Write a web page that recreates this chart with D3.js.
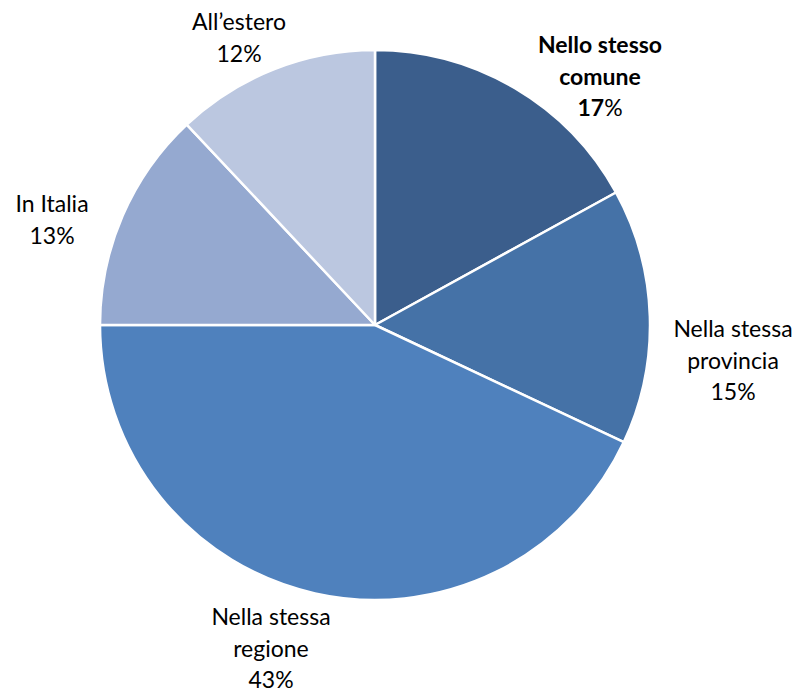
<!DOCTYPE html>
<html>
<head>
<meta charset="utf-8">
<script src="https://cdn.jsdelivr.net/npm/d3@7"></script>
<style>
  html, body { margin: 0; padding: 0; background: #fff; }
  svg { display: block; }
  text { font-family: Lato, "Open Sans", sans-serif; fill: #000; }
</style>
</head>
<body>
<svg id="chart" width="806" height="696"></svg>
<script>
// ---- data ----
const categories = ["Nello stesso comune", "Nella stessa provincia", "Nella stessa regione", "In Italia", "All\u2019estero"];
const values = [17, 15, 43, 13, 12];
const labelLines = [
  ["Nello stesso", "comune"],
  ["Nella stessa", "provincia"],
  ["Nella stessa", "regione"],
  ["In Italia"],
  ["All\u2019estero"]
];
const colors = ["#3B5E8C", "#4572A7", "#4F81BD", "#95A9D0", "#BBC7E0"];
const boldLabel = [true, false, false, false, false];
// label anchor: center x, first baseline y
const labelPos = [[600, 53], [733, 337], [271, 625], [52, 212], [239, 30]];

// ---- layout ----
const cx = 375, cy = 325, R = 275;
const fontSize = 23, lineH = 31.7;

const svg = d3.select("#chart");
const pie = d3.pie().value(d => d).sort(null);
const arcs = pie(values);
const arc = d3.arc().innerRadius(0).outerRadius(R);

const g = svg.append("g").attr("transform", `translate(${cx},${cy})`);
g.selectAll("path").data(arcs).join("path")
  .attr("d", arc)
  .attr("fill", (d, i) => colors[i])
  .attr("stroke", "#fff")
  .attr("stroke-width", 2.5)
  .attr("stroke-linejoin", "round");

const labels = svg.selectAll("text.lbl").data(arcs).join("text")
  .attr("class", "lbl")
  .attr("text-anchor", "middle")
  .attr("font-size", fontSize)
  .attr("font-weight", (d, i) => boldLabel[i] ? "bold" : "normal")
  .attr("x", (d, i) => labelPos[i][0])
  .attr("y", (d, i) => labelPos[i][1]);

labels.each(function(d, i) {
  const t = d3.select(this);
  const [x] = labelPos[i];
  labelLines[i].forEach((ln, k) => {
    t.append("tspan").attr("x", x).attr("dy", k === 0 ? 0 : lineH).text(ln);
  });
  const p = t.append("tspan").attr("x", x).attr("dy", lineH);
  p.append("tspan").text(values[i]);
  p.append("tspan").attr("font-weight", "normal").text("%");
});
</script>
</body>
</html>
